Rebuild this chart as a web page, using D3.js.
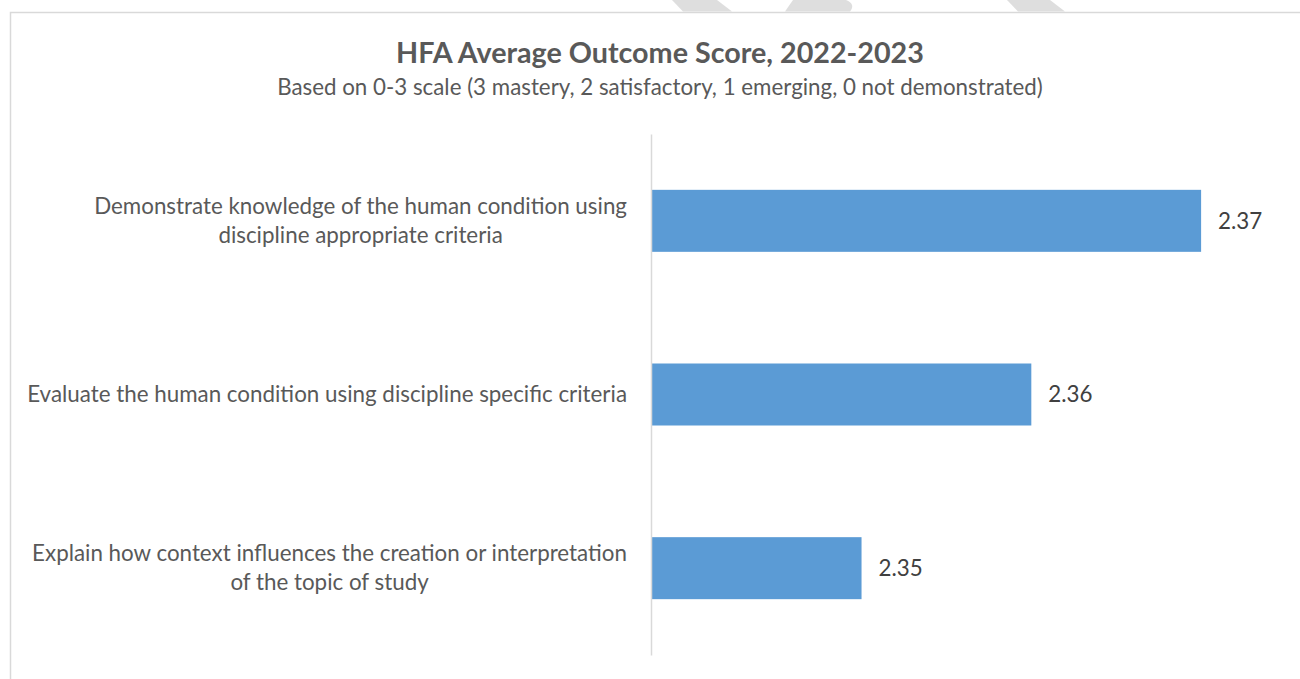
<!DOCTYPE html>
<html>
<head>
<meta charset="utf-8">
<script src="https://cdn.jsdelivr.net/npm/d3@7"></script>
<style>
  body { margin: 0; background: #ffffff; }
  svg { display: block; }
</style>
</head>
<body>
<svg id="chart" width="1300" height="679"></svg>
<script>
// Outcome categories (line breaks mark where each label wraps)
const categories = [
  "Demonstrate knowledge of the human condition using\ndiscipline appropriate criteria",
  "Evaluate the human condition using discipline specific criteria",
  "Explain how context influences the creation or interpretation\nof the topic of study"
];
// Average outcome score per category
const scores = [2.37, 2.36, 2.35];
// Value axis range (the axis starts above zero so small differences are visible)
const scoreDomain = [2.3376, 2.375];

const titleText = "HFA Average Outcome Score, 2022-2023";
const subtitleText = "Based on 0-3 scale (3 mastery, 2 satisfactory, 1 emerging, 0 not demonstrated)";

const W = 1300, H = 679;
const FONT = "Lato, 'Open Sans', 'DejaVu Sans', sans-serif";
const TEXT_GREY = "#595959";
const LABEL_GREY = "#404040";
const BAR_BLUE = "#5b9bd5";
const RULE_GREY = "#d9d9d9";

const svg = d3.select("#chart");

// Rendered width of a string at a given size and weight
function textWidth(text, weight, size) {
  const probe = svg.append("text")
    .attr("font-family", FONT)
    .attr("font-weight", weight)
    .attr("font-size", size)
    .text(text);
  const w = probe.node().getComputedTextLength();
  probe.remove();
  return w;
}
// Font size at which a string spans `width` pixels
function sizeFor(text, weight, width) {
  return 100 * width / textWidth(text, weight, 100);
}

// Background
svg.append("rect").attr("width", W).attr("height", H).attr("fill", "#ffffff");

// Faint shapes along the top edge, above the chart frame
const topShapes = [
  "M672,0 L717,0 L732,11.5 L683,11.5 Z",
  "M793,0 L846,0 Q856,4 850,11.5 L785,11.5 Z",
  "M1007,0 L1050,0 L1065,11.5 L1018,11.5 Z"
];
svg.append("g").selectAll("path").data(topShapes).join("path")
  .attr("d", d => d)
  .attr("fill", "#dedede");

// Chart frame (top and left edges are visible)
svg.append("path")
  .attr("d", `M10.5,${H} L10.5,12.5 L${W},12.5`)
  .attr("fill", "none")
  .attr("stroke", RULE_GREY)
  .attr("stroke-width", 1.5);

// Title and subtitle
const cx = 660;
svg.append("text")
  .attr("x", cx).attr("y", 63)
  .attr("text-anchor", "middle")
  .attr("font-family", FONT)
  .attr("font-weight", "bold")
  .attr("font-size", sizeFor(titleText, "bold", 528))
  .attr("fill", TEXT_GREY)
  .text(titleText);

svg.append("text")
  .attr("x", cx).attr("y", 95)
  .attr("text-anchor", "middle")
  .attr("font-family", FONT)
  .attr("font-size", sizeFor(subtitleText, "normal", 766))
  .attr("fill", TEXT_GREY)
  .text(subtitleText);

// Plot area
const plot = { left: 651, top: 134, bottom: 655, right: 1286 };

const x = d3.scaleLinear().domain(scoreDomain).range([plot.left, plot.right]);
const y = d3.scaleBand()
  .domain(categories)
  .range([plot.top, plot.bottom])
  .paddingInner(0.643)
  .paddingOuter(0.3215);

const rows = categories.map((c, i) => ({ category: c, score: scores[i] }));

// Bars
svg.append("g").selectAll("rect").data(rows).join("rect")
  .attr("x", x(scoreDomain[0]))
  .attr("y", d => y(d.category))
  .attr("width", d => x(d.score) - x(scoreDomain[0]))
  .attr("height", y.bandwidth())
  .attr("fill", BAR_BLUE);

// Category axis line (labels drawn separately so wrapped lines can be centred)
const axis = d3.axisLeft(y).tickSize(0).tickSizeOuter(0).tickFormat("");
const axisG = svg.append("g")
  .attr("transform", `translate(${plot.left},0)`)
  .call(axis);
axisG.select(".domain").attr("stroke", RULE_GREY).attr("stroke-width", 1.5);
axisG.selectAll(".tick").remove();

// Category labels: each block is right-aligned against the axis, lines centred within it
const labelSize = sizeFor("Explain how context influences the creation or interpretation", "normal", 595);
const labelRight = 627;
const lineGap = 29;
const labelG = svg.append("g")
  .attr("font-family", FONT)
  .attr("font-size", labelSize)
  .attr("fill", TEXT_GREY);

rows.forEach(d => {
  const lines = d.category.split("\n");
  const blockW = d3.max(lines, l => textWidth(l, "normal", labelSize));
  const midY = y(d.category) + y.bandwidth() / 2;
  const firstY = midY - (lines.length - 1) * lineGap / 2;
  const t = labelG.append("text").attr("text-anchor", "middle");
  lines.forEach((l, i) => {
    t.append("tspan")
      .attr("x", labelRight - blockW / 2)
      .attr("y", firstY + i * lineGap)
      .attr("dy", "0.35em")
      .text(l);
  });
});

// Value labels at the end of each bar
const scoreFormat = d3.format(".2f");
svg.append("g")
  .attr("font-family", FONT)
  .attr("font-size", labelSize)
  .attr("fill", LABEL_GREY)
  .selectAll("text").data(rows).join("text")
  .attr("x", d => x(d.score) + 17)
  .attr("y", d => y(d.category) + y.bandwidth() / 2)
  .attr("dy", "0.35em")
  .text(d => scoreFormat(d.score));
</script>
</body>
</html>
